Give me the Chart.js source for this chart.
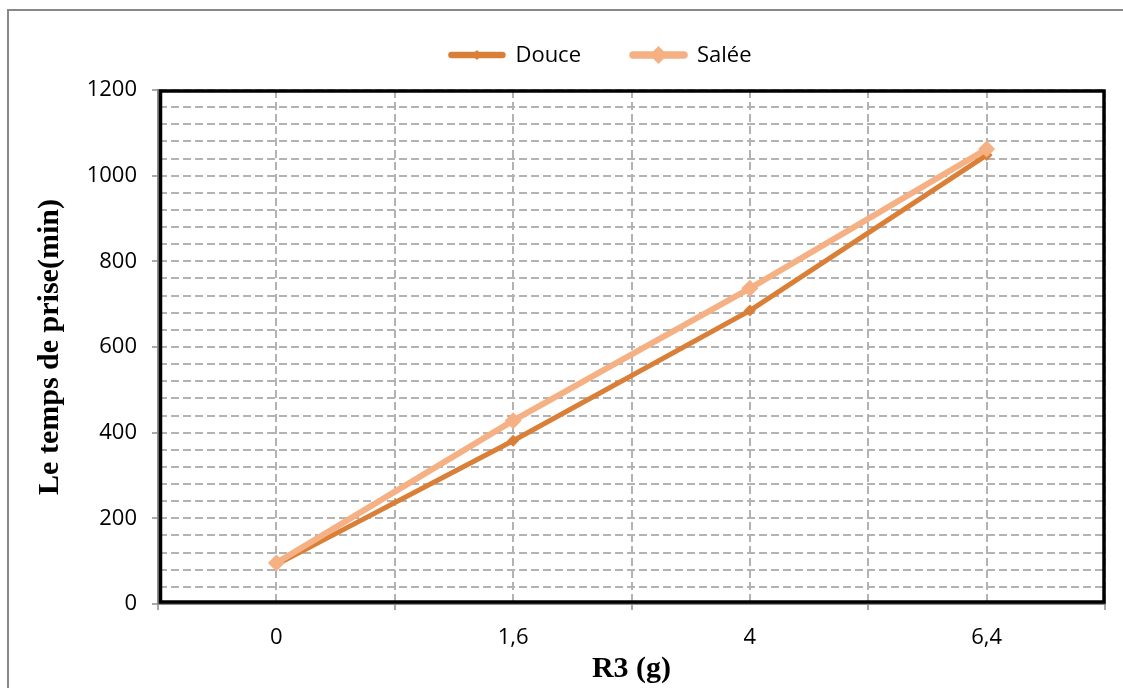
<!DOCTYPE html>
<html>
<head>
<meta charset="utf-8">
<script src="https://cdn.jsdelivr.net/npm/chart.js@4.4.1/dist/chart.umd.min.js"></script>
<style>
  html, body { margin: 0; padding: 0; background: #fff; }
  #wrap { width: 1123px; height: 688px; }
</style>
</head>
<body>
<div id="wrap"><canvas id="chart" width="1123" height="688"></canvas></div>
<script>
// values
var categories = ['0', '1,6', '4', '6,4'];
var douce = [92, 381, 685, 1048];
var salee = [96, 428, 737, 1062];
var series_names = ['Douce', 'Salée'];
var y_title = 'Le temps de prise(min)';
var x_title = 'R3 (g)';

var sans = "'Open Sans', sans-serif";
var serif = "'Liberation Serif', 'Times New Roman', serif";
var grid_gray = '#B3B3B3';
var axis_gray = '#8C8C8C';

// white page, the thin frame and the heavy plot box
var frame_plugin = {
  id: 'frame',
  beforeDraw: function(chart){
    var ctx = chart.ctx;
    ctx.save();
    ctx.fillStyle = '#fff';
    ctx.fillRect(0, 0, chart.width, chart.height);
    ctx.strokeStyle = '#888';
    ctx.lineWidth = 2;
    ctx.beginPath();
    ctx.moveTo(8, chart.height);
    ctx.lineTo(8, 10);
    ctx.lineTo(chart.width, 10);
    ctx.stroke();
    ctx.restore();
  },
  beforeDatasetsDraw: function(chart){
    var a = chart.chartArea;
    var ctx = chart.ctx;
    ctx.save();
    ctx.strokeStyle = '#000';
    ctx.lineWidth = 3.5;
    ctx.strokeRect(a.left + 2.5, a.top + 1, a.right - a.left - 3.5, a.bottom - a.top - 3);
    ctx.restore();
  }
};

// legend: line with a diamond, then the name
var legend_plugin = {
  id: 'lineLegend',
  afterDraw: function(chart){
    var ctx = chart.ctx;
    var sets = chart.data.datasets;
    var sample = 57, gap = 10, item_gap = 49, cy = 55;
    ctx.save();
    ctx.font = '22px ' + sans;
    var total = 0;
    sets.forEach(function(ds, i){
      total += sample + gap + ctx.measureText(ds.label).width;
      if (i < sets.length - 1) total += item_gap;
    });
    var x = 600 - total / 2;
    sets.forEach(function(ds){
      ctx.strokeStyle = ds.borderColor;
      ctx.lineWidth = ds.borderWidth + 1.5;
      ctx.lineCap = 'round';
      ctx.beginPath();
      ctx.moveTo(x + 3, cy);
      ctx.lineTo(x + sample - 3, cy);
      ctx.stroke();
      var r = ds.legendRadius;
      ctx.fillStyle = ds.borderColor;
      ctx.beginPath();
      ctx.moveTo(x + sample / 2, cy - r);
      ctx.lineTo(x + sample / 2 + r, cy);
      ctx.lineTo(x + sample / 2, cy + r);
      ctx.lineTo(x + sample / 2 - r, cy);
      ctx.closePath();
      ctx.fill();
      ctx.fillStyle = '#000';
      ctx.textBaseline = 'middle';
      ctx.fillText(ds.label, x + sample + gap, cy + 1);
      x += sample + gap + ctx.measureText(ds.label).width + item_gap;
    });
    ctx.restore();
  }
};

var ctx = document.getElementById('chart');
var myChart = new Chart(ctx, {
  type: 'line',
  data: {
    labels: categories,
    datasets: [{
      label: series_names[0],
      data: douce,
      borderColor: '#DA7F37',
      backgroundColor: '#DA7F37',
      borderWidth: 5,
      pointStyle: 'rectRot',
      pointRadius: 6,
      pointBorderWidth: 0,
      legendRadius: 5,
      tension: 0,
      order: 1
    }, {
      label: series_names[1],
      data: salee,
      borderColor: '#F5B084',
      backgroundColor: '#F5B084',
      borderWidth: 6,
      pointStyle: 'rectRot',
      pointRadius: 8.5,
      pointBorderWidth: 0,
      legendRadius: 9,
      tension: 0,
      order: 0
    }]
  },
  options: {
    responsive: false,
    animation: false,
    events: [],
    layout: { padding: { left: 0, top: 90, right: 18, bottom: 0 } },
    plugins: {
      legend: { display: false },
      tooltip: { enabled: false }
    },
    scales: {
      x: {
        type: 'category',
        position: 'bottom',
        offset: true,
        grid: {
          offset: true,
          color: grid_gray,
          lineWidth: 2,
          drawTicks: true,
          tickLength: 6,
          tickColor: axis_gray,
          tickWidth: 1.5
        },
        border: { display: true, color: axis_gray, width: 2, dash: [8, 4] },
        ticks: { color: '#000', font: { family: sans, size: 22 }, padding: 15, maxRotation: 0 },
        title: { display: true, text: x_title, color: '#000',
                 font: { family: serif, size: 30, weight: 'bold' }, padding: { top: 0, bottom: 1 } },
        afterFit: function(s){ s.height = 84; }
      },
      x2: {
        type: 'category',
        position: 'top',
        offset: true,
        grid: { offset: false, color: grid_gray, lineWidth: 2, drawTicks: false },
        border: { display: false, dash: [8, 4] },
        ticks: { display: false },
        afterFit: function(s){ s.height = 0; }
      },
      y: {
        min: 0,
        max: 1200,
        grid: {
          color: grid_gray,
          lineWidth: 2,
          drawTicks: true,
          tickLength: 6,
          tickWidth: 1.5,
          tickColor: function(c){ return c.tick && c.tick.value % 200 === 0 ? axis_gray : 'rgba(0,0,0,0)'; }
        },
        border: { display: true, color: axis_gray, width: 2, dash: [8, 4] },
        ticks: {
          stepSize: 40,
          autoSkip: false,
          color: '#000',
          font: { family: sans, size: 22 },
          padding: 15,
          callback: function(v){ return v % 200 === 0 ? v : ''; }
        },
        title: { display: true, text: y_title, color: '#000',
                 font: { family: serif, size: 30, weight: 'bold' }, padding: { top: 32, bottom: 0 } },
        afterFit: function(s){ s.width = 158; }
      }
    }
  },
  plugins: [frame_plugin, legend_plugin]
});
</script>
</body>
</html>
